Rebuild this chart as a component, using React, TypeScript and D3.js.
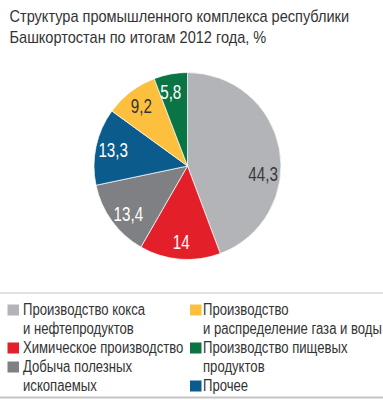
import React from "react";
import * as d3 from "d3";

const titleLines = [
  "Структура промышленного комплекса республики",
  "Башкортостан по итогам 2012 года, %",
];
const categories = [
  ["Производство кокса", "и нефтепродуктов"],
  ["Химическое производство"],
  ["Добыча полезных", "ископаемых"],
  ["Прочее"],
  ["Производство", "и распределение газа и воды"],
  ["Производство пищевых", "продуктов"],
];
const values = [44.3, 14, 13.4, 13.3, 9.2, 5.8];
const valueLabels = ["44,3", "14", "13,4", "13,3", "9,2", "5,8"];
const colors = ["#b3b4b7", "#e3202a", "#7f8083", "#0b5b8c", "#fcc03e", "#0a7445"];
const labelColors = ["#3a3a3a", "#ffffff", "#ffffff", "#ffffff", "#333333", "#ffffff"];
const legendColumns = [
  [0, 1, 2],
  [4, 5, 3],
];

const FONT = "'Liberation Sans', Arial, sans-serif";
const W = 383;
const H = 400;
const cx = 187.5;
const cy = 166;
const R = 93.5;
const labelR = 76;
const labelAngleShift = [0.28, 0, -0.05, 0, 0, -0.04];

function NText({
  x,
  y,
  k,
  size,
  fill,
  anchor,
  children,
}: {
  x: number;
  y: number;
  k: number;
  size: number;
  fill: string;
  anchor?: string;
  children: React.ReactNode;
}) {
  return (
    <text
      transform={`translate(${x},${y}) scale(${k},1)`}
      fontSize={size}
      fill={fill}
      textAnchor={anchor || "start"}
    >
      {children}
    </text>
  );
}

export default function App() {
  const pie = d3
    .pie<number>()
    .sort(null)
    .value((d) => d);
  const arcs = pie(values);
  const arc = d3.arc<d3.PieArcDatum<number>>().innerRadius(0).outerRadius(R);

  const legendX = [7.5, 190];
  const textX = [23, 203];
  const rowY0 = 314.5;
  const rowStep = 19;

  return (
    <svg
      width={W}
      height={H}
      style={{ position: "absolute", left: 0, top: 0, background: "#fff" }}
      fontFamily={FONT}
    >
      {titleLines.map((t, i) => (
        <NText key={i} x={9.5} y={22 + i * 21} k={0.91} size={16} fill="#333">
          {t}
        </NText>
      ))}
      <g transform={`translate(${cx},${cy})`}>
        {arcs.map((a, i) => (
          <path key={i} d={arc(a) || ""} fill={colors[i]} stroke="#fff" strokeWidth={0.7} />
        ))}
        {arcs.map((a, i) => {
          const ang = (a.startAngle + a.endAngle) / 2 + labelAngleShift[i];
          const x = labelR * Math.sin(ang);
          const y = -labelR * Math.cos(ang);
          return (
            <NText key={i} x={x} y={y + 7} k={0.78} size={19.5} fill={labelColors[i]} anchor="middle">
              {valueLabels[i]}
            </NText>
          );
        })}
      </g>
      <line x1={0} x2={W} y1={293} y2={293} stroke="#c4c4c4" strokeWidth={1.2} />
      <line x1={0} x2={W} y1={397.5} y2={397.5} stroke="#c4c4c4" strokeWidth={2} />
      {legendColumns.map((col, c) => {
        let row = 0;
        return col.map((idx) => {
          const y = rowY0 + row * rowStep;
          const lines = categories[idx];
          row += lines.length;
          return (
            <g key={idx}>
              <rect x={legendX[c]} y={y - 10} width={11.5} height={11} fill={colors[idx]} />
              {lines.map((l, j) => (
                <NText key={j} x={textX[c]} y={y + j * rowStep} k={0.82} size={16} fill="#333">
                  {l}
                </NText>
              ))}
            </g>
          );
        });
      })}
    </svg>
  );
}
